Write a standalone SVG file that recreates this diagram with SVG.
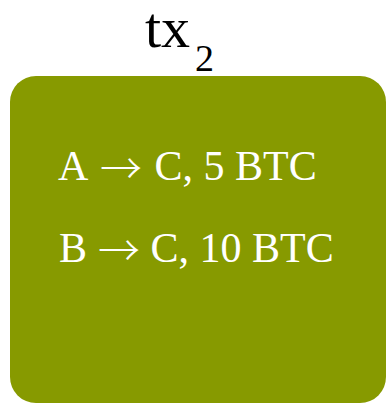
<svg xmlns="http://www.w3.org/2000/svg" width="386" height="403" viewBox="0 0 386 403">
<style>
.t{font-family:"Liberation Serif","Times New Roman",serif;}
.w{fill:#ffffff;font-size:42px;}
.arr{font-family:"Noto Sans CJK JP",sans-serif;font-size:42px;font-weight:300;}
</style>
<rect width="386" height="403" fill="#ffffff"/>
<g id="title">
<text class="t" x="145" y="47" font-size="58" fill="#000000">tx</text>
<text class="t" x="195" y="71" font-size="38" fill="#000000">2</text>
</g>
<g id="tx2">
<rect x="10" y="76" width="376" height="327" rx="26" ry="26" fill="#879a00"/>
<text class="t w" y="180"><tspan x="58">A </tspan><tspan class="arr" x="100" y="184">→</tspan><tspan x="144" y="180"> C, 5 BTC</tspan></text>
<text class="t w" y="262"><tspan x="59">B </tspan><tspan class="arr" x="98" y="266">→</tspan><tspan x="140" y="262"> C, 10 BTC</tspan></text>
</g>
<g id="connectors"/>
</svg>
